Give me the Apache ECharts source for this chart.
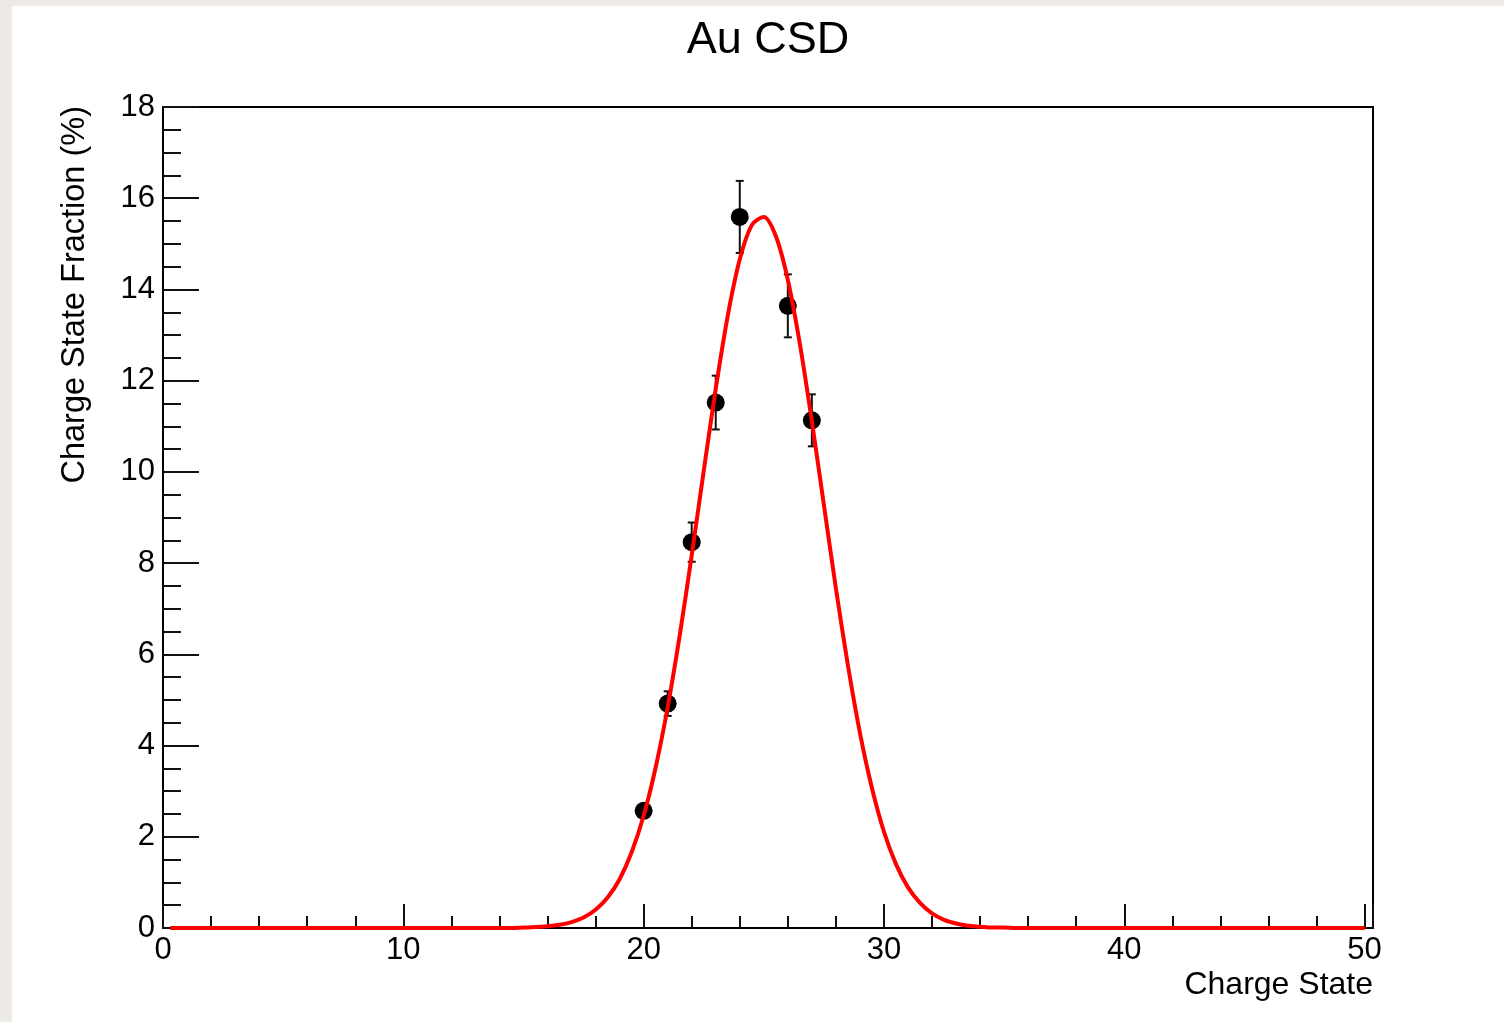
<!DOCTYPE html>
<html>
<head>
<meta charset="utf-8">
<title>Au CSD</title>
<script src="https://cdn.jsdelivr.net/npm/echarts@6/dist/echarts.min.js"></script>
<style>
  html, body { margin: 0; padding: 0; width: 1504px; height: 1022px; overflow: hidden; background: #edeae6; }
  #chart { position: absolute; left: 12px; top: 6px; width: 1492px; height: 1016px; background: #ffffff; }
</style>
</head>
<body>
<div id="chart"></div>
<script>
// Measured charge-state fractions (%) with their uncertainties
const chargeStates   = [20, 21, 22, 23, 24, 26, 27];
const fractions      = [2.57, 4.92, 8.46, 11.52, 15.59, 13.64, 11.13];
const fractionErrors = [0.08, 0.27, 0.43, 0.59, 0.79, 0.69, 0.57];

// Gaussian fit curve, sampled every half charge state
const fitX = [0.3, 14, 14.5, 15, 15.5, 16, 16.5, 17, 17.5, 18, 18.5, 19, 19.5, 20, 20.5, 21, 21.5, 22, 22.5,
              23, 23.5, 24, 24.5, 25, 25.5, 26, 26.5, 27, 27.5, 28, 28.5, 29, 29.5, 30, 30.5, 31, 31.5,
              32, 32.5, 33, 33.5, 34, 34.5, 35, 35.5, 36, 50];
const fitY = [0, 0, 0, 0.01, 0.02, 0.04, 0.07, 0.13, 0.23, 0.40, 0.67, 1.07, 1.66, 2.46, 3.52, 4.84, 6.41, 8.17, 10.02,
              11.82, 13.42, 14.66, 15.41, 15.59, 15.17, 14.21, 12.81, 11.11, 9.28, 7.45, 5.76, 4.28, 3.07, 2.11, 1.40, 0.89, 0.55,
              0.32, 0.18, 0.10, 0.05, 0.03, 0.01, 0.01, 0, 0, 0];

// Axis tick labels
const xTickLabels = [0, 10, 20, 30, 40, 50];
const yTickLabels = [0, 2, 4, 6, 8, 10, 12, 14, 16, 18];

const FONT = '"Liberation Sans", Arial, Helvetica, sans-serif';
const INK = '#000000';

const errorData = chargeStates.map((x, i) => [x, fractions[i] - fractionErrors[i], fractions[i] + fractionErrors[i]]);
const pointData = chargeStates.map((x, i) => [x, fractions[i]]);
const fitData = fitX.map((x, i) => [x, fitY[i]]);

const chart = echarts.init(document.getElementById('chart'), null, { renderer: 'canvas' });

chart.setOption({
  animation: false,
  backgroundColor: '#ffffff',
  textStyle: { fontFamily: FONT },
  title: {
    text: 'Au CSD',
    left: 751,
    textAlign: 'center',
    top: 7,
    textStyle: { fontFamily: FONT, fontSize: 45, fontWeight: 'normal', color: INK }
  },
  grid: {
    left: 151,
    top: 101,
    width: 1210,
    height: 821,
    show: true,
    borderColor: INK,
    borderWidth: 2,
    backgroundColor: 'transparent',
    containLabel: false,
    outerBoundsMode: 'none'
  },
  xAxis: {
    type: 'value',
    min: 0,
    max: 50.35,
    interval: 10,
    name: 'Charge State',
    nameLocation: 'end',
    nameGap: 0,
    nameTextStyle: {
      fontFamily: FONT, fontSize: 32, color: INK,
      align: 'right', verticalAlign: 'top', padding: [41, 0, 0, 0]
    },
    axisLine: { show: true, onZero: false, lineStyle: { color: INK, width: 2 } },
    axisTick: { show: true, inside: true, length: 24, lineStyle: { color: '#111', width: 2 } },
    minorTick: { show: true, splitNumber: 5, length: 12, lineStyle: { color: '#111', width: 2 } },
    splitLine: { show: false },
    minorSplitLine: { show: false },
    axisLabel: {
      show: true, fontFamily: FONT, fontSize: 31, color: INK, margin: 7,
      showMinLabel: true, showMaxLabel: true,
      formatter: v => (xTickLabels.includes(v) ? String(v) : '')
    }
  },
  yAxis: {
    type: 'value',
    min: 0,
    max: 18,
    interval: 2,
    name: 'Charge State Fraction (%)',
    nameLocation: 'end',
    nameRotate: 90,
    nameGap: 1,
    nameTextStyle: {
      fontFamily: FONT, fontSize: 32.5, color: INK,
      align: 'right', verticalAlign: 'bottom', padding: [0, 0, 71, 0]
    },
    axisLine: { show: true, onZero: false, lineStyle: { color: INK, width: 2 } },
    axisTick: { show: true, inside: true, length: 36, lineStyle: { color: '#111', width: 2 } },
    minorTick: { show: true, splitNumber: 4, length: 18, lineStyle: { color: '#111', width: 2 } },
    splitLine: { show: false },
    minorSplitLine: { show: false },
    axisLabel: {
      show: true, fontFamily: FONT, fontSize: 31, color: INK, margin: 8,
      formatter: v => (yTickLabels.includes(v) ? String(v) : '')
    }
  },
  series: [
    {
      name: 'errors',
      type: 'custom',
      data: errorData,
      encode: { x: 0, y: [1, 2] },
      z: 2,
      renderItem: function (params, api) {
        const x = api.value(0);
        const lo = api.coord([x, api.value(1)]);
        const hi = api.coord([x, api.value(2)]);
        const cap = 4;
        const style = { stroke: '#111', lineWidth: 2 };
        return {
          type: 'group',
          children: [
            { type: 'line', shape: { x1: lo[0], y1: lo[1], x2: hi[0], y2: hi[1] }, style: style },
            { type: 'line', shape: { x1: lo[0] - cap, y1: lo[1], x2: lo[0] + cap, y2: lo[1] }, style: style },
            { type: 'line', shape: { x1: hi[0] - cap, y1: hi[1], x2: hi[0] + cap, y2: hi[1] }, style: style }
          ]
        };
      }
    },
    {
      name: 'data',
      type: 'scatter',
      data: pointData,
      symbol: 'circle',
      symbolSize: 18,
      itemStyle: { color: INK, opacity: 1 },
      z: 3
    },
    {
      name: 'fit',
      type: 'line',
      data: fitData,
      showSymbol: false,
      smooth: 0.3,
      lineStyle: { color: '#ff0000', width: 4 },
      itemStyle: { color: '#ff0000' },
      z: 4
    }
  ]
});
</script>
</body>
</html>
